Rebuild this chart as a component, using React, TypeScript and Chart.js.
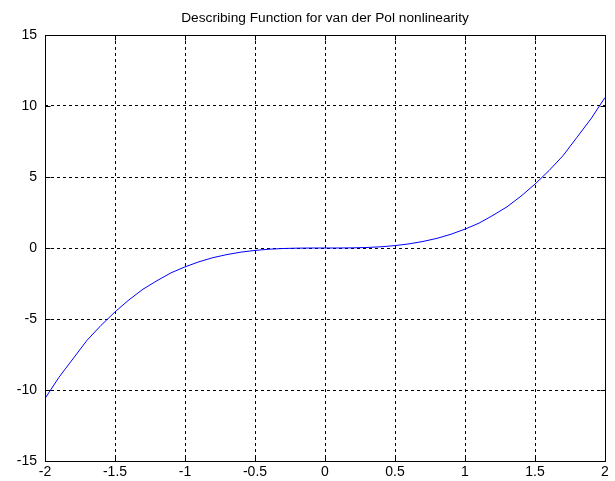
import React, { useEffect, useRef } from "react";
import { Chart, registerables } from "chart.js";

Chart.register(...registerables);

const titleText = "Describing Function for van der Pol nonlinearity";

const amplitudes = [
  -2.0, -1.9, -1.8, -1.7, -1.6, -1.5, -1.4, -1.3, -1.2, -1.1, -1.0,
  -0.9, -0.8, -0.7, -0.6, -0.5, -0.4, -0.3, -0.2, -0.1, 0.0,
  0.1, 0.2, 0.3, 0.4, 0.5, 0.6, 0.7, 0.8, 0.9, 1.0,
  1.1, 1.2, 1.3, 1.4, 1.5, 1.6, 1.7, 1.8, 1.9, 2.0,
];

const describingValues = [
  -10.6, -9.1, -7.8, -6.5, -5.45, -4.5, -3.65, -2.9, -2.3, -1.75, -1.33,
  -0.97, -0.68, -0.46, -0.29, -0.17, -0.085, -0.036, -0.011, -0.001, 0.0,
  0.001, 0.011, 0.036, 0.085, 0.17, 0.29, 0.46, 0.68, 0.97, 1.33,
  1.75, 2.3, 2.9, 3.65, 4.5, 5.45, 6.5, 7.8, 9.1, 10.6,
];

const xTickValues = [-2, -1.5, -1, -0.5, 0, 0.5, 1, 1.5, 2];
const yTickValues = [-15, -10, -5, 0, 5, 10, 15];

const FONT_FAMILY = "'Liberation Sans', Arial, sans-serif";

const boxPlugin = {
  id: "matlabBox",
  afterDraw(chart: any) {
    const { ctx, chartArea } = chart;
    const { left, top, right, bottom } = chartArea;
    const xs = chart.scales.x;
    const ys = chart.scales.y;
    ctx.save();
    ctx.strokeStyle = "#000000";
    ctx.lineWidth = 1;
    ctx.setLineDash([]);
    ctx.strokeRect(Math.round(left) + 0.5, Math.round(top) + 0.5, Math.round(right - left), Math.round(bottom - top));
    const tl = 5;
    ctx.beginPath();
    xTickValues.forEach((v) => {
      const px = Math.round(xs.getPixelForValue(v)) + 0.5;
      ctx.moveTo(px, Math.round(bottom) + 0.5);
      ctx.lineTo(px, Math.round(bottom) + 0.5 - tl);
      ctx.moveTo(px, Math.round(top) + 0.5);
      ctx.lineTo(px, Math.round(top) + 0.5 + tl);
    });
    yTickValues.forEach((v) => {
      const py = Math.round(ys.getPixelForValue(v)) + 0.5;
      ctx.moveTo(Math.round(left) + 0.5, py);
      ctx.lineTo(Math.round(left) + 0.5 + tl, py);
      ctx.moveTo(Math.round(right) + 0.5, py);
      ctx.lineTo(Math.round(right) + 0.5 - tl, py);
    });
    ctx.stroke();
    ctx.restore();
  },
};

export default function App() {
  const canvasRef = useRef<HTMLCanvasElement | null>(null);

  useEffect(() => {
    if (!canvasRef.current) return;
    const points = amplitudes.map((a, i) => ({ x: a, y: describingValues[i] }));
    const chart = new Chart(canvasRef.current, {
      type: "line",
      data: {
        datasets: [
          {
            data: points,
            borderColor: "#0000FF",
            borderWidth: 1,
            pointRadius: 0,
            tension: 0,
            fill: false,
          },
        ],
      },
      options: {
        responsive: false,
        animation: false,
        events: [],
        layout: { padding: { left: 0, right: 10, top: 0, bottom: 0 } },
        plugins: {
          legend: { display: false },
          tooltip: { enabled: false },
          title: {
            display: true,
            fullSize: false,
            text: titleText,
            color: "#000000",
            font: { family: FONT_FAMILY, size: 13.7, weight: "normal", lineHeight: 1.2 },
            padding: { top: 10, bottom: 8.56 },
          },
        },
        scales: {
          x: {
            type: "linear",
            min: -2,
            max: 2,
            afterFit: (scale: any) => {
              scale.height = 20;
            },
            afterBuildTicks: (scale: any) => {
              scale.ticks = xTickValues.map((v) => ({ value: v }));
            },
            ticks: {
              color: "#000000",
              padding: 3,
              maxRotation: 0,
              autoSkip: false,
              font: { family: FONT_FAMILY, size: 14 },
              callback: (v: any) => String(v),
            },
            grid: { color: "#000000", lineWidth: 1, drawTicks: false },
            border: { display: false, dash: [3, 3] },
          },
          y: {
            type: "linear",
            min: -15,
            max: 15,
            afterFit: (scale: any) => {
              scale.width = 45;
            },
            afterBuildTicks: (scale: any) => {
              scale.ticks = yTickValues.map((v) => ({ value: v }));
            },
            ticks: {
              color: "#000000",
              padding: 8,
              autoSkip: false,
              font: { family: FONT_FAMILY, size: 14 },
              callback: (v: any) => String(v),
            },
            grid: { color: "#000000", lineWidth: 1, drawTicks: false },
            border: { display: false, dash: [3, 3] },
          },
        },
      },
      plugins: [boxPlugin],
    });
    return () => chart.destroy();
  }, []);

  return (
    <div style={{ position: "fixed", left: 0, top: 0, width: 615, height: 481, background: "#ffffff" }}>
      <canvas ref={canvasRef} width={615} height={481} style={{ display: "block" }} />
    </div>
  );
}
